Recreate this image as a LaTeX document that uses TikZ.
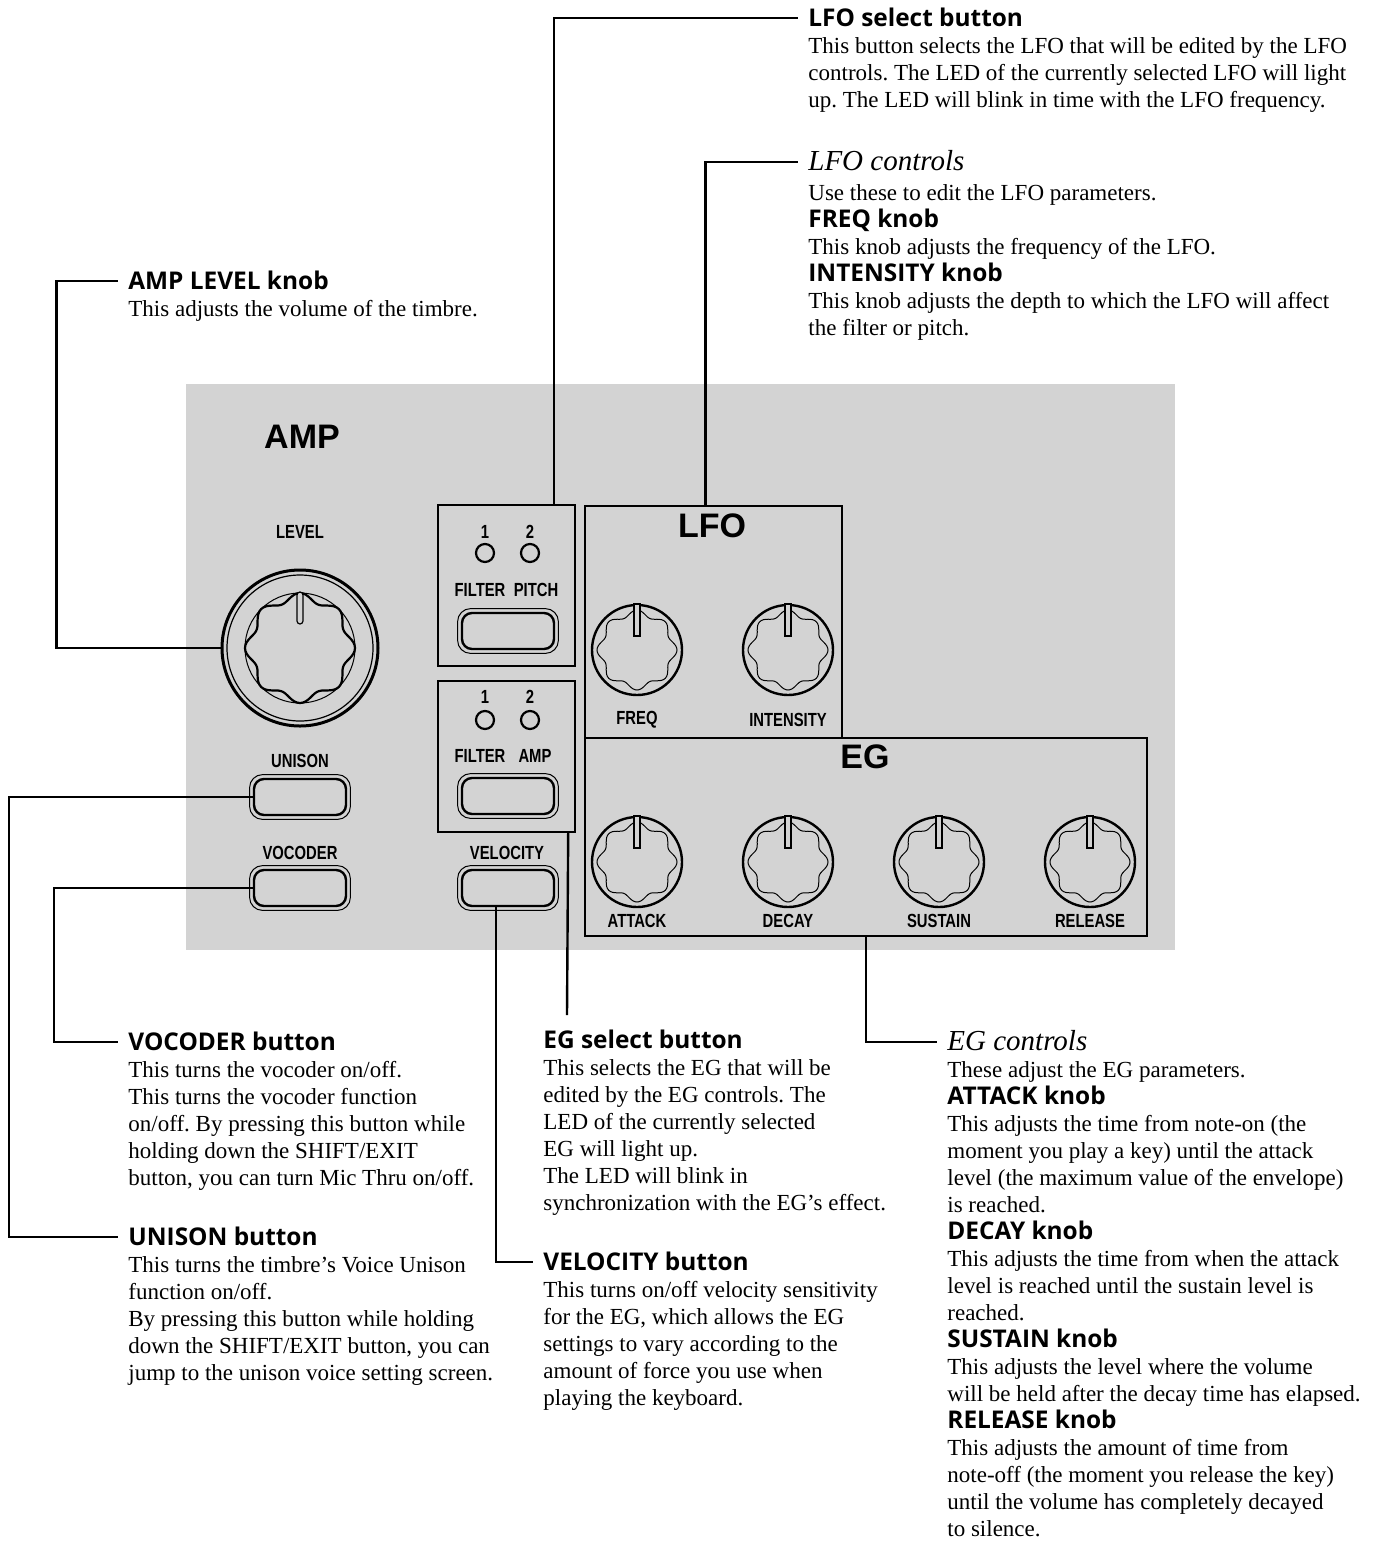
\documentclass[tikz,border=0pt]{standalone}
\usepackage{fontspec}
\setmainfont{Liberation Serif}
\newfontfamily\headfont{Open Sans}
\newfontfamily\panelfont{Liberation Sans}[FakeStretch=0.78]
\newfontfamily\titlefont{Liberation Sans}
\usetikzlibrary{positioning}
\definecolor{panel}{HTML}{D3D3D3}
\newcommand\subhead[1]{{\headfont\bfseries\fontsize{12.2}{13.5}\selectfont #1}}
\frenchspacing

\tikzset{
  lead/.style={line width=1.2pt},
  tohead/.style={lead, shorten >=5pt},
  head/.style={font=\headfont\bfseries\fontsize{12.2}{13.5}\selectfont,
    inner sep=0pt, text height=8pt, text depth=0pt, anchor=base west},
  italhead/.style={head, font=\itshape\fontsize{14.5}{15}\selectfont},
  body/.style={font=\fontsize{11.5}{13.5}\selectfont, align=left, inner sep=0pt},
  lbl/.style={font=\panelfont\bfseries\fontsize{9.5}{10}\selectfont, inner sep=0pt},
  ttl/.style={font=\titlefont\bfseries\fontsize{17}{18}\selectfont, inner sep=0pt},
  selbox/.style={draw, line width=1.2pt, minimum width=68.5pt, inner sep=0pt},
  secbox/.style={draw, line width=1.2pt, inner sep=0pt},
  led/.style={circle, draw, line width=1.1pt, minimum size=9pt, inner sep=0pt},
  btn/.style={draw, line width=1.2pt, rounded corners=5pt,
    minimum width=46pt, minimum height=18pt, inner sep=0pt},
  knob/.style={circle, draw, line width=1.2pt, minimum size=45pt, inner sep=0pt},
  bigknob/.style={circle, draw, line width=1.5pt, minimum size=78pt, inner sep=0pt}
}

\begin{document}
\begin{tikzpicture}[x=0.5pt,y=-0.5pt]
  \useasboundingbox (0,0) rectangle (1385,1544);
  % panel
  \fill[panel] (186,384) rectangle (1175,950);
  \node[selbox, minimum height=80.5pt] (sLfo) at (506.5,585.5) {};
  \node[selbox, minimum height=75.5pt] (sEg) at (506.5,756.5) {};
  \node[secbox, minimum width=128.5pt, minimum height=116pt] (fLfo) at (713.5,622) {};
  \node[secbox, minimum width=281pt, minimum height=99pt] (fEg) at (866,837) {};
  \node[ttl] (tAmp) at (302,437) {AMP};
  \node[ttl] (tLfo) at (712,526) {LFO};
  \node[ttl] (tEg) at (865,757) {EG};

  % amp level
  \node[lbl] (lLevel) at (300,532) {LEVEL};
  \node[bigknob] (kLevel) at (300,648) {};
  \begin{scope}[shift={(kLevel.center)}]
    \draw[line width=0.6pt] (0,0) circle (73);
    \draw[line width=0.5pt] (0,0) circle (55);
    \draw[line width=1.1pt] plot[domain=0:357, samples=120, smooth cycle] (\x:{51+4*cos(8*\x)});
    \draw[line width=0.6pt, fill=panel, rounded corners=1.5pt] (-3,-56) rectangle (3,-24);
  \end{scope}

  % knobs
  \node[knob] (kFreq) at (637,650) {};
  \node[knob] (kInt) at (788,650) {};
  \node[knob] (kAtk) at (637,862) {};
  \node[knob] (kDec) at (788,862) {};
  \node[knob] (kSus) at (939,862) {};
  \node[knob] (kRel) at (1090,862) {};
  \foreach \k in {kFreq,kInt,kAtk,kDec,kSus,kRel}{
    \begin{scope}[shift={(\k.center)}]
      \draw[line width=0.5pt] plot[domain=0:357, samples=120, smooth cycle] (\x:{37+3*cos(8*\x)});
      \draw[line width=0.6pt, fill=panel] (-3,-46) rectangle (3,-14);
    \end{scope}
  }
  \node[lbl] at (637,720) {FREQ};
  \node[lbl] at (788,720) {INTENSITY};
  \node[lbl] at (637,921) {ATTACK};
  \node[lbl] at (788,921) {DECAY};
  \node[lbl] at (939,921) {SUSTAIN};
  \node[lbl] at (1090,921) {RELEASE};

  % select sections
  \node[lbl] at (485,532) {1};
  \node[lbl] at (530,532) {2};
  \node[led] (dLfoA) at (485,553) {};
  \node[led] (dLfoB) at (530,553) {};
  \node[lbl] at (480,590) {FILTER};
  \node[lbl] at (536,590) {PITCH};
  \node[lbl] at (485,697) {1};
  \node[lbl] at (530,697) {2};
  \node[led] (dEgA) at (485,720) {};
  \node[led] (dEgB) at (530,720) {};
  \node[lbl] at (480,756) {FILTER};
  \node[lbl] at (535,756) {AMP};

  % buttons
  \node[lbl] at (300,761) {UNISON};
  \node[lbl] at (300,853) {VOCODER};
  \node[lbl] at (507,853) {VELOCITY};
  \node[btn] (bLfo) at (508,631) {};
  \node[btn] (bEg) at (508,796) {};
  \node[btn] (bUni) at (300,797) {};
  \node[btn] (bVoc) at (300,888) {};
  \node[btn] (bVel) at (508,888) {};
  \foreach \b in {bLfo,bEg,bUni,bVoc,bVel}
    \draw[line width=0.5pt, rounded corners=6.5pt] ([shift={(-1.6pt,1.6pt)}]\b.north west) rectangle ([shift={(1.6pt,-1.6pt)}]\b.south east);

  % callout texts
  \node[head] (hLfoSel) at (808,26) {LFO select button};
  \node[body, below=4.05pt of hLfoSel.south west, anchor=north west] (tLfoSel)
    {\strut This button selects the LFO that will be edited by the LFO\\
     controls. The LED of the currently selected LFO will light\\
     up. The LED will blink in time with the LFO frequency.};

  \node[italhead] (hLfoCtl) at (808,170) {LFO controls};
  \node[body, below=5.5pt of hLfoCtl.south west, anchor=north west] (tLfoCtl)
    {\strut Use these to edit the LFO parameters.\\
     \subhead{FREQ knob}\\
     This knob adjusts the frequency of the LFO.\\
     \subhead{INTENSITY knob}\\
     This knob adjusts the depth to which the LFO will affect\\
     the filter or pitch.};

  \node[head] (hAmp) at (128,289) {AMP LEVEL knob};
  \node[body, below=4.05pt of hAmp.south west, anchor=north west] (tAmpLvl)
    {\strut This adjusts the volume of the timbre.};

  \node[head] (hVoc) at (128,1050) {VOCODER button};
  \node[body, below=4.05pt of hVoc.south west, anchor=north west] (tVoc)
    {\strut This turns the vocoder on/off.\\
     This turns the vocoder function\\
     on/off. By pressing this button while\\
     holding down the SHIFT/EXIT\\
     button, you can turn Mic Thru on/off.};

  \node[head] (hUni) at (128,1245) {UNISON button};
  \node[body, below=4.05pt of hUni.south west, anchor=north west] (tUni)
    {\strut This turns the timbre’s Voice Unison\\
     function on/off.\\
     By pressing this button while holding\\
     down the SHIFT/EXIT button, you can\\
     jump to the unison voice setting screen.};

  \node[head] (hEgSel) at (543,1048) {EG select button};
  \node[body, below=4.05pt of hEgSel.south west, anchor=north west] (tEgSel)
    {\strut This selects the EG that will be\\
     edited by the EG controls. The\\
     LED of the currently selected\\
     EG will light up.\\
     The LED will blink in\\
     synchronization with the EG’s effect.};

  \node[head] (hVel) at (543,1270) {VELOCITY button};
  \node[body, below=4.05pt of hVel.south west, anchor=north west] (tVel)
    {\strut This turns on/off velocity sensitivity\\
     for the EG, which allows the EG\\
     settings to vary according to the\\
     amount of force you use when\\
     playing the keyboard.};

  \node[italhead] (hEgCtl) at (947,1050) {EG controls};
  \node[body, below=4.05pt of hEgCtl.south west, anchor=north west] (tEgCtl)
    {\strut These adjust the EG parameters.\\
     \subhead{ATTACK knob}\\
     This adjusts the time from note-on (the\\
     moment you play a key) until the attack\\
     level (the maximum value of the envelope)\\
     is reached.\\
     \subhead{DECAY knob}\\
     This adjusts the time from when the attack\\
     level is reached until the sustain level is\\
     reached.\\
     \subhead{SUSTAIN knob}\\
     This adjusts the level where the volume\\
     will be held after the decay time has elapsed.\\
     \subhead{RELEASE knob}\\
     This adjusts the amount of time from\\
     note-off (the moment you release the key)\\
     until the volume has completely decayed\\
     to silence.};

  % leaders
  \coordinate (cEgSel) at (567,1015);
  \draw[tohead] ([xshift=-11pt]sLfo.north east) |- (hLfoSel.west);
  \draw[tohead] ([xshift=-4pt]fLfo.north) |- (hLfoCtl.west);
  \draw[tohead] (kLevel.west) -- ++(-164,0) |- (hAmp.west);
  \draw[tohead] (bUni.west) -- ++(-244,0) |- (hUni.west);
  \draw[tohead] (bVoc.west) -- ++(-199,0) |- (hVoc.west);
  \draw[tohead] ([xshift=-6pt]bVel.south) |- (hVel.west);
  \draw[lead] ([xshift=-4pt]sEg.south east) -- (cEgSel);
  \draw[tohead] (fEg.south) |- (hEgCtl.west);
\end{tikzpicture}
\end{document}
